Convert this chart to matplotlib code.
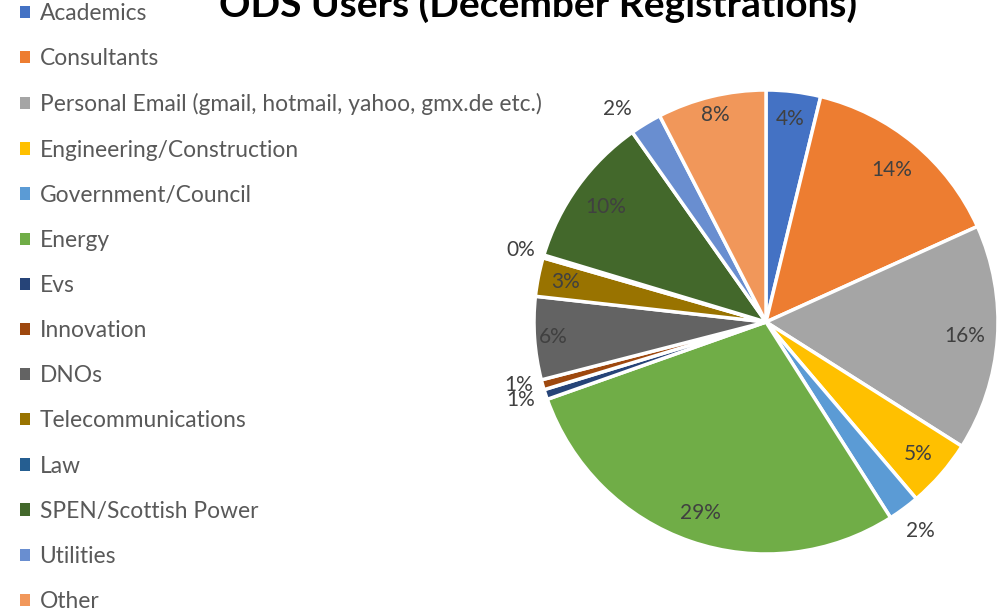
import numpy as np
import matplotlib
matplotlib.use("Agg")
import matplotlib.pyplot as plt
from matplotlib.patches import Patch

plt.rcParams['font.family'] = ['Lato', 'DejaVu Sans']

categories = ["Academics", "Consultants",
              "Personal Email (gmail, hotmail, yahoo, gmx.de etc.)",
              "Engineering/Construction", "Government/Council", "Energy", "Evs",
              "Innovation", "DNOs", "Telecommunications", "Law",
              "SPEN/Scottish Power", "Utilities", "Other"]
shares = [3.8, 14.5, 15.8, 4.8, 2.2, 28.7, 0.7, 0.7, 5.8, 2.7, 0.2, 10.6, 2.2, 7.6]
labels = ["4%", "14%", "16%", "5%", "2%", "29%", "1%", "1%", "6%", "3%", "0%",
          "10%", "2%", "8%"]
colors = ["#4472C4", "#ED7D31", "#A5A5A5", "#FFC000", "#5B9BD5", "#70AD47",
          "#264478", "#9E480E", "#636363", "#997300", "#255E91", "#43682B",
          "#698ED0", "#F1975A"]
# radius for each data label (inside ~0.88, outside ~1.11)
label_r = [0.88, 0.85, 0.86, 0.87, 1.12, 0.87, 1.11, 1.10, 0.92, 0.88, 1.1,
           0.85, 1.12, 0.92]
label_shift = [0, 0, 0, 0, 0, 0, -0.5, -1.3, 0, 0, 0, 0, 3.6, 0]  # degrees

fig = plt.figure(figsize=(10.05, 6.13), dpi=100)
ax = fig.add_axes([(766 - 232) / 1005, (613 - 322 - 232) / 613, 464 / 1005, 464 / 613])
wedges, _ = ax.pie(shares, colors=colors, startangle=90, counterclock=False,
                   radius=1, wedgeprops=dict(edgecolor="white", linewidth=2.5))
ax.set_xlim(-1, 1)
ax.set_ylim(-1, 1)
ax.set_aspect("equal")
ax.axis("off")

for w, lab, r, sh in zip(wedges, labels, label_r, label_shift):
    ang = np.deg2rad((w.theta1 + w.theta2) / 2 + sh)
    ax.text(r * np.cos(ang), r * np.sin(ang), lab, ha="center", va="center",
            fontsize=15, color="#404040")

fig.text(0.535, 1 - 17 / 613, "ODS Users (December Registrations)", ha="center",
         va="baseline", fontsize=28, fontweight="bold", color="black")

handles = [Patch(facecolor=c, edgecolor="none") for c in colors]
fig.legend(handles, categories, loc="center left", bbox_to_anchor=(0.011, 0.4984),
           frameon=False, fontsize=16.4, labelcolor="#595959", handlelength=0.45,
           handleheight=0.45, handletextpad=0.4, labelspacing=1.06,
           borderaxespad=0)

fig.savefig("out.png", dpi=100)
